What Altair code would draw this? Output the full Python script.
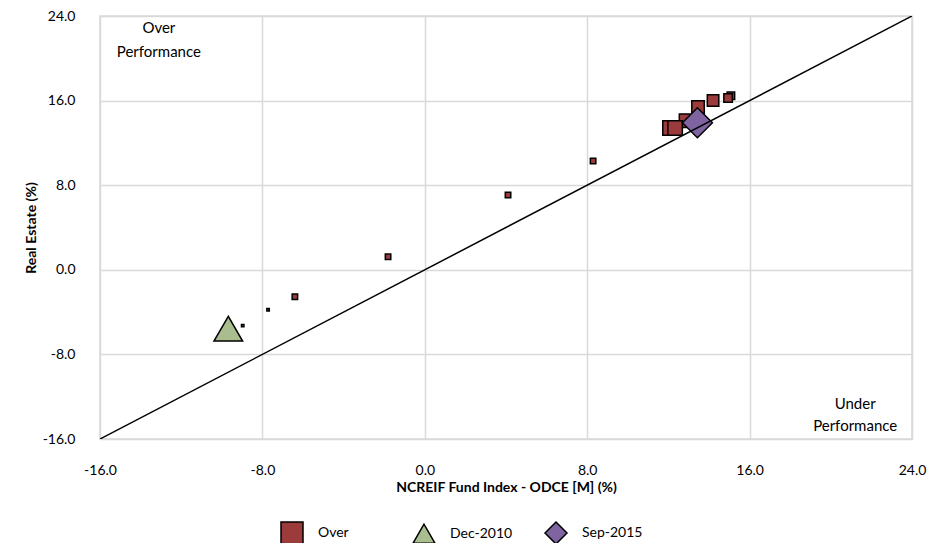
import altair as alt
import pandas as pd

# ---- data ----
over_x = [-8.97, -7.72, -6.40, -1.81, 4.10, 8.29, 15.08, 14.94, 14.20, 13.46, 12.87, 12.08, 12.33]
over_y = [-5.28, -3.77, -2.55, 1.23, 7.07, 10.28, 16.45, 16.25, 16.00, 15.40, 14.10, 13.40, 13.40]
over_size = [6, 6, 30, 30, 30, 30, 56, 72, 132, 156, 182, 210, 210]

dec_x = [-9.68]
dec_y = [-5.57]
dec_size = [820]

sep_x = [13.43]
sep_y = [13.90]
sep_size = [900]

series_names = ["Over", "Dec-2010", "Sep-2015"]
series_colors = ["#9B3B3B", "#A9BD8E", "#8064A2"]
series_shapes = ["square", "triangle-up", "diamond"]

ref_x = [-16, 24]
ref_y = [-16, 24]

ann_x = [-13.1, -13.1, 21.2, 21.2]
ann_y = [22.9, 20.6, -12.7, -14.8]
ann_text = ["Over", "Performance", "Under", "Performance"]

tick_vals = [-16, -8, 0, 8, 16, 24]

# ---- tables ----
rows = []
for x, y, s in zip(over_x, over_y, over_size):
    rows.append({"x": x, "y": y, "size": s, "series": "Over"})
for x, y, s in zip(dec_x, dec_y, dec_size):
    rows.append({"x": x, "y": y, "size": s, "series": "Dec-2010"})
for x, y, s in zip(sep_x, sep_y, sep_size):
    rows.append({"x": x, "y": y, "size": s, "series": "Sep-2015"})
pts = pd.DataFrame(rows)
pts["order"] = range(len(pts))

ref = pd.DataFrame({"x": ref_x, "y": ref_y})
ann = pd.DataFrame({"x": ann_x, "y": ann_y, "text": ann_text})

FONT = "Lato"
label_expr = "(datum.value < 0 ? '-' : '') + format(abs(datum.value), '.1f')"

xscale = alt.Scale(domain=[-16, 24], nice=False, zero=False)
yscale = alt.Scale(domain=[-16, 24], nice=False, zero=False)

xaxis = alt.Axis(values=tick_vals, labelExpr=label_expr, title="NCREIF Fund Index - ODCE [M] (%)",
                 labelFlush=False, labelPadding=24, titlePadding=3, ticks=False, domain=False,
                 gridColor="#d9d9d9", gridWidth=1.5)
yaxis = alt.Axis(values=tick_vals, labelExpr=label_expr, title="Real Estate (%)",
                 labelFlush=False, labelPadding=25, titlePadding=4, ticks=False, domain=False,
                 gridColor="#d9d9d9", gridWidth=1.5)

legend = alt.Legend(title=None, orient="none", direction="horizontal", legendX=180, legendY=505,
                    symbolSize=484, symbolStrokeColor="black", symbolStrokeWidth=1.5,
                    labelOffset=14, columnPadding=29, gridAlign="all", labelFontSize=14,
                    labelFont=FONT, labelColor="black")

points = alt.Chart(pts).mark_point(filled=True, stroke="black", strokeWidth=1.5, opacity=1).encode(
    x=alt.X("x:Q", scale=xscale, axis=xaxis),
    y=alt.Y("y:Q", scale=yscale, axis=yaxis),
    color=alt.Color("series:N", scale=alt.Scale(domain=series_names, range=series_colors), legend=legend),
    shape=alt.Shape("series:N", scale=alt.Scale(domain=series_names, range=series_shapes), legend=legend),
    size=alt.Size("size:Q", scale=None, legend=None),
    order=alt.Order("order:Q"),
)

line = alt.Chart(ref).mark_line(color="black", strokeWidth=1.5, clip=True).encode(
    x=alt.X("x:Q", scale=xscale),
    y=alt.Y("y:Q", scale=yscale),
)

texts = alt.Chart(ann).mark_text(font=FONT, fontSize=15, color="black", align="center", baseline="middle").encode(
    x=alt.X("x:Q", scale=xscale),
    y=alt.Y("y:Q", scale=yscale),
    text="text:N",
)

chart = alt.layer(points, line, texts).properties(
    width=812, height=423,
    autosize=alt.AutoSizeParams(type="none"),
    padding={"left": 92, "top": 8, "right": 24, "bottom": 104},
).configure_view(
    stroke="#d9d9d9", strokeWidth=1.5
).configure_axis(
    labelFont=FONT, labelFontSize=14, labelColor="black",
    titleFont=FONT, titleFontSize=14, titleFontWeight="bold", titleColor="black",
)

chart.save("out.html", embed_options={"renderer": "svg", "actions": False})
